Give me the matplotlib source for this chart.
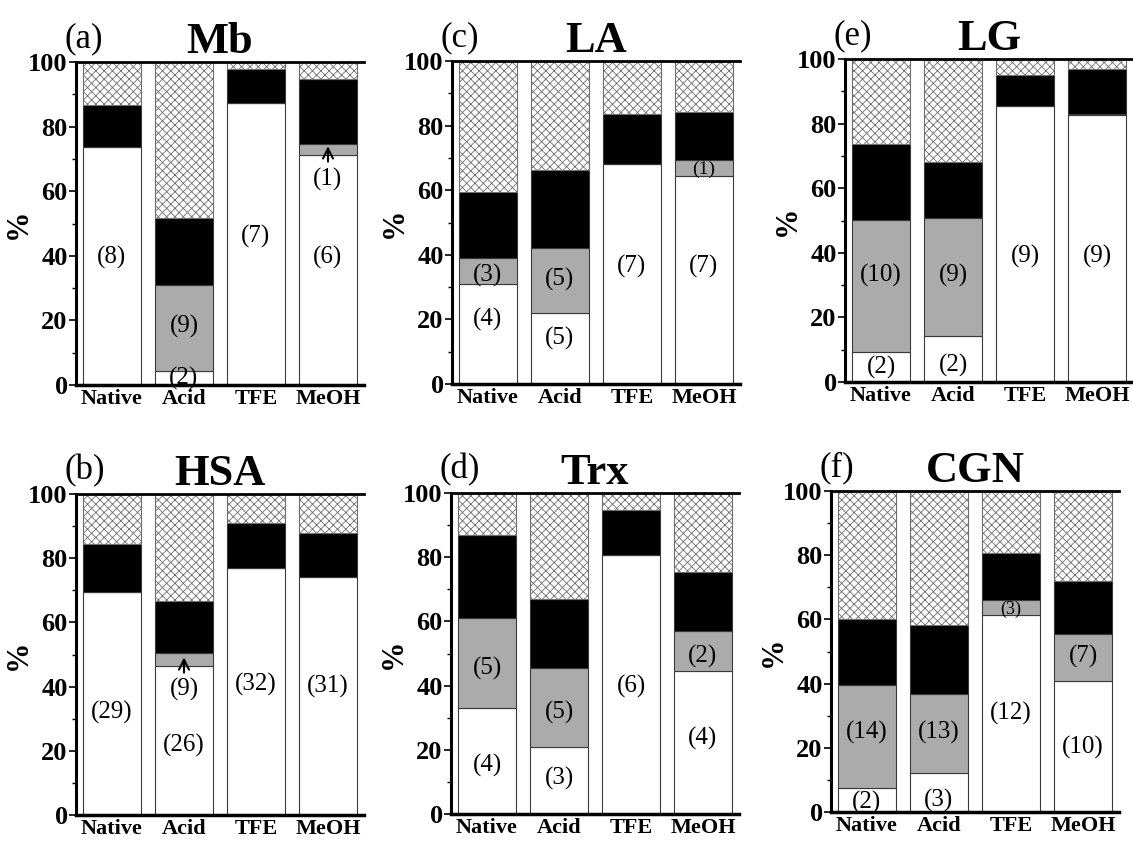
import numpy as np
import matplotlib
matplotlib.use('Agg')
import matplotlib.pyplot as plt
from matplotlib.ticker import MultipleLocator

plt.rcParams['font.family'] = ['Liberation Serif', 'DejaVu Serif']
plt.rcParams['hatch.linewidth'] = 0.6

conditions = ['Native', 'Acid', 'TFE', 'MeOH']

# stacked segments, bottom to top (percent)
mb_white = [73.6, 4.3, 87.2, 71.3]
mb_gray = [0.0, 26.7, 0.0, 3.2]
mb_black = [13.1, 20.6, 10.7, 20.2]
mb_other = [13.3, 48.4, 2.1, 5.3]

la_white = [30.9, 22.1, 68.0, 64.4]
la_gray = [8.1, 20.1, 0.0, 5.0]
la_black = [20.4, 24.2, 15.6, 14.9]
la_other = [40.6, 33.6, 16.4, 15.7]

lg_white = [9.3, 14.1, 85.4, 82.6]
lg_gray = [40.8, 36.6, 0.0, 0.4]
lg_black = [23.7, 17.4, 9.7, 13.9]
lg_other = [26.2, 31.9, 4.9, 3.1]

hsa_white = [69.5, 46.3, 76.8, 74.2]
hsa_gray = [0.0, 4.1, 0.0, 0.0]
hsa_black = [14.8, 16.3, 14.1, 13.6]
hsa_other = [15.7, 33.3, 9.1, 12.2]

trx_white = [33.1, 20.9, 80.6, 44.7]
trx_gray = [27.9, 24.5, 0.0, 12.4]
trx_black = [26.0, 21.7, 14.1, 18.4]
trx_other = [13.0, 32.9, 5.3, 24.5]

cgn_white = [7.5, 12.3, 61.3, 40.9]
cgn_gray = [32.1, 24.6, 4.6, 14.4]
cgn_black = [20.4, 21.2, 14.8, 16.7]
cgn_other = [40.0, 41.9, 19.3, 28.0]

# counts written in the bars: (bar, y, text, size)
mb_notes = [(0, 39.5, '(8)', 18), (1, 18, '(9)', 18), (1, 2.0, '(2)', 18),
            (2, 46, '(7)', 18), (3, 39.5, '(6)', 18), (3, 63.5, '(1)', 18)]
la_notes = [(0, 33.5, '(3)', 18), (0, 20, '(4)', 18), (1, 32.5, '(5)', 18),
            (1, 14, '(5)', 18), (2, 36.5, '(7)', 18), (3, 36.5, '(7)', 18),
            (3, 66.5, '(1)', 14)]
lg_notes = [(0, 33, '(10)', 18), (0, 4.5, '(2)', 18), (1, 33, '(9)', 18),
            (1, 5, '(2)', 18), (2, 39, '(9)', 18), (3, 39, '(9)', 18)]
hsa_notes = [(0, 32, '(29)', 18), (1, 39.2, '(9)', 18), (1, 21.7, '(26)', 18),
             (2, 40.7, '(32)', 18), (3, 40.2, '(31)', 18)]
trx_notes = [(0, 45.4, '(5)', 18), (0, 15, '(4)', 18), (1, 31.7, '(5)', 18),
             (1, 11.2, '(3)', 18), (2, 39.7, '(6)', 18), (3, 49.2, '(2)', 18),
             (3, 23.5, '(4)', 18)]
cgn_notes = [(0, 24.7, '(14)', 18), (0, 3, '(2)', 18), (1, 24.7, '(13)', 18),
             (1, 3.6, '(3)', 18), (2, 63.2, '(3)', 13), (2, 30.8, '(12)', 18),
             (3, 48.6, '(7)', 18), (3, 20, '(10)', 18)]

W, H = 1133, 841


def px_axes(fig, left, top, right, bottom):
    return fig.add_axes([left / W, 1 - bottom / H, (right - left) / W, (bottom - top) / H])


def draw_panel(ax, tag, name, white, gray, black, other, notes, arrow=None):
    x = np.arange(len(conditions))
    white = np.array(white)
    gray = np.array(gray)
    black = np.array(black)
    other = np.array(other)
    ax.bar(x, white, 0.8, color='white', edgecolor='#3a3a3a', lw=0.8)
    ax.bar(x, gray, 0.8, bottom=white, color='#ababab', edgecolor='#3a3a3a', lw=0.8)
    ax.bar(x, black, 0.8, bottom=white + gray, color='black', edgecolor='#3a3a3a', lw=0.8)
    ax.bar(x, other, 0.8, bottom=white + gray + black, color='white',
           edgecolor='#6e6e6e', hatch='xxxx', lw=0.8)

    for i, y, t, s in notes:
        ax.text(i, y, t, ha='center', va='center', fontsize=s)
    if arrow is not None:
        i, y0, y1 = arrow
        ax.annotate('', xy=(i, y1), xytext=(i, y0),
                    arrowprops=dict(arrowstyle='->', lw=1.5, color='black',
                                    mutation_scale=18))

    ax.set_xlim(-0.5, 3.5)
    ax.set_ylim(0, 100)
    ax.set_xticks(x)
    ax.set_xticklabels(conditions, fontsize=16, fontweight='bold')
    ax.tick_params(axis='x', length=0, pad=3)
    ax.yaxis.set_major_locator(MultipleLocator(20))
    ax.yaxis.set_minor_locator(MultipleLocator(10))
    ax.tick_params(axis='y', which='major', direction='out', length=5, width=1.2,
                   labelsize=19, pad=1)
    ax.tick_params(axis='y', which='minor', direction='out', length=3, width=1)
    for lab in ax.get_yticklabels():
        lab.set_fontweight('bold')
    ax.spines['right'].set_visible(False)
    ax.spines['left'].set_linewidth(2.2)
    ax.spines['bottom'].set_linewidth(2.5)
    ax.spines['top'].set_linewidth(2.0)
    ax.set_ylabel('%', fontsize=22, fontweight='bold')
    ax.yaxis.set_label_coords(-0.15, 0.5)
    ax.set_title(name, fontsize=32, fontweight='bold', pad=2)
    ax.text(-0.04, 1.02, tag, transform=ax.transAxes, fontsize=25,
            ha='left', va='bottom')


fig = plt.figure(figsize=(W / 100, H / 100), dpi=100)

ax_a = px_axes(fig, 76, 62, 364, 385)
ax_c = px_axes(fig, 452, 61, 740, 384)
ax_e = px_axes(fig, 845, 59, 1133, 382)
ax_b = px_axes(fig, 76, 494, 364, 815)
ax_d = px_axes(fig, 451, 493, 739, 814)
ax_f = px_axes(fig, 831, 491, 1119, 812)

draw_panel(ax_a, '(a)', 'Mb', mb_white, mb_gray, mb_black, mb_other, mb_notes,
           arrow=(3, 68.3, 74.8))
draw_panel(ax_c, '(c)', 'LA', la_white, la_gray, la_black, la_other, la_notes)
draw_panel(ax_e, '(e)', 'LG', lg_white, lg_gray, lg_black, lg_other, lg_notes)
draw_panel(ax_b, '(b)', 'HSA', hsa_white, hsa_gray, hsa_black, hsa_other, hsa_notes,
           arrow=(1, 43.5, 50.0))
draw_panel(ax_d, '(d)', 'Trx', trx_white, trx_gray, trx_black, trx_other, trx_notes)
draw_panel(ax_f, '(f)', 'CGN', cgn_white, cgn_gray, cgn_black, cgn_other, cgn_notes)

fig.savefig('out.png', dpi=100)
